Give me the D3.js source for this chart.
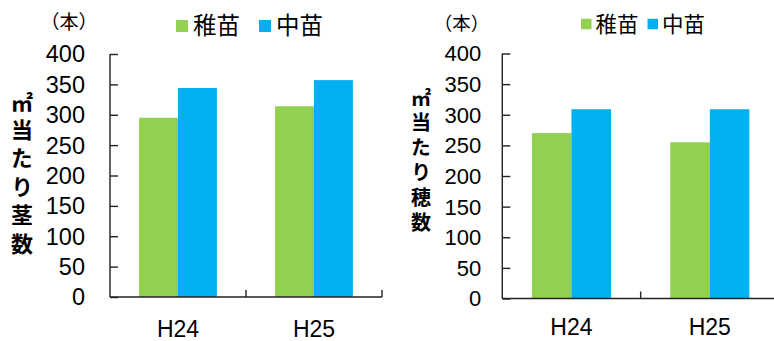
<!DOCTYPE html>
<html>
<head>
<meta charset="utf-8">
<script src="https://cdn.jsdelivr.net/npm/d3@7"></script>
<style>
  html, body { margin: 0; padding: 0; background: #fff; }
  svg { display: block; }
  .num { font-family: "Liberation Sans", Arial, sans-serif; fill: #000; }
  .cjk { font-family: "Noto Sans CJK JP", sans-serif; fill: #000; }
</style>
</head>
<body>
<svg id="chart" width="774" height="341"></svg>
<script>
// Categories, series and values
const categories = ["H24", "H25"];
const seriesNames = ["稚苗", "中苗"];
const seriesColors = ["#92D050", "#00B0F0"];
// ㎡当たり茎数 (本)
const stemsSeedling = [295, 314];
const stemsMedium = [344, 357];
// ㎡当たり穂数 (本)
const paniclesSeedling = [270, 255];
const paniclesMedium = [309, 309];
const yTickValues = [0, 50, 100, 150, 200, 250, 300, 350, 400];
const unitLabel = "（本）";
const titleStems = "㎡当たり茎数";
const titlePanicles = "㎡当たり穂数";

const svg = d3.select("#chart");

function drawPanel(opt) {
  const g = svg.append("g");
  const y = d3.scaleLinear().domain([0, 400]).range([opt.bottom, opt.top]);
  const x = d3.scaleBand().domain(categories).range([opt.left, opt.right]).padding(0);
  const bw = x.bandwidth();
  const groupW = bw * 0.572;
  const xs = d3.scaleBand().domain(seriesNames).range([(bw - groupW) / 2, (bw + groupW) / 2]).padding(0);

  const rows = categories.map((c, i) => ({ cat: c, values: [opt.a[i], opt.b[i]] }));

  // bars
  const grp = g.selectAll("g.cat").data(rows).join("g")
    .attr("transform", d => `translate(${x(d.cat)},0)`);
  grp.selectAll("rect").data(d => d.values.map((v, k) => ({ k, v }))).join("rect")
    .attr("x", d => xs(seriesNames[d.k]))
    .attr("width", xs.bandwidth())
    .attr("y", d => y(d.v))
    .attr("height", d => y(0) - y(d.v))
    .attr("fill", d => seriesColors[d.k]);

  // y axis: line with inward ticks, labels drawn separately
  const yAxis = d3.axisRight(y).tickValues(yTickValues).tickSize(8).tickFormat("").tickSizeOuter(0);
  const ya = g.append("g").attr("transform", `translate(${opt.left},0)`).call(yAxis);
  ya.select(".domain").attr("stroke", "#222").attr("stroke-width", 1.4)
    .attr("d", `M0,${opt.top}V${opt.bottom}`);
  ya.selectAll(".tick line").attr("stroke", "#222").attr("stroke-width", 1.4);
  g.selectAll("text.ylab").data(yTickValues).join("text")
    .attr("class", "num ylab")
    .attr("x", opt.left - opt.labelGap)
    .attr("y", d => y(d))
    .attr("dy", "0.36em")
    .attr("text-anchor", "end")
    .attr("font-size", opt.tickFont)
    .text(d => d);

  // x axis: category separators pointing up
  const edges = categories.map(c => x(c) + bw);
  g.append("line").attr("x1", opt.left).attr("x2", opt.right)
    .attr("y1", opt.bottom).attr("y2", opt.bottom)
    .attr("stroke", "#222").attr("stroke-width", 1.4);
  g.selectAll("line.xt").data(edges).join("line")
    .attr("class", "xt")
    .attr("x1", d => d).attr("x2", d => d)
    .attr("y1", opt.bottom).attr("y2", opt.bottom - 7)
    .attr("stroke", "#222").attr("stroke-width", 1.4);
  g.selectAll("text.xlab").data(categories).join("text")
    .attr("class", "num xlab")
    .attr("x", d => x(d) + bw / 2)
    .attr("y", opt.catBaseline)
    .attr("text-anchor", "middle")
    .attr("font-size", opt.catFont)
    .text(d => d);

  // unit
  g.append("text").attr("class", "cjk")
    .attr("x", opt.unitX).attr("y", opt.unitY)
    .attr("font-size", opt.unitFont)
    .style("font-feature-settings", '"halt"')
    .text(unitLabel);

  // legend
  let lx = opt.legendX;
  seriesNames.forEach((name, k) => {
    g.append("rect")
      .attr("x", lx).attr("y", opt.legendY - opt.swatch / 2)
      .attr("width", opt.swatch).attr("height", opt.swatch)
      .attr("fill", seriesColors[k]);
    const t = g.append("text").attr("class", "cjk")
      .attr("x", lx + opt.swatch + opt.swatchGap).attr("y", opt.legendY)
      .attr("dy", "0.36em")
      .attr("font-size", opt.legendFont)
      .text(name);
    lx += opt.swatch + opt.swatchGap + t.node().getComputedTextLength() + opt.itemGap;
  });

  // vertical axis title, set top-to-bottom
  g.append("text").attr("class", "cjk")
    .attr("x", opt.titleX).attr("y", opt.titleY0)
    .style("writing-mode", "vertical-rl")
    .style("letter-spacing", (opt.titleStep - opt.titleFont) + "px")
    .attr("font-size", opt.titleFont)
    .attr("font-weight", "bold")
    .text(opt.title);
}

drawPanel({
  a: stemsSeedling, b: stemsMedium, title: titleStems,
  left: 110, right: 382, top: 54, bottom: 297,
  labelGap: 25, tickFont: 23.5, catFont: 23, catBaseline: 337,
  unitX: 50, unitY: 29, unitFont: 19,
  legendX: 176, legendY: 26, swatch: 12, swatchGap: 5, legendFont: 23.5, itemGap: 19,
  titleX: 22, titleY0: 90, titleStep: 28.5, titleFont: 22
});

drawPanel({
  a: paniclesSeedling, b: paniclesMedium, title: titlePanicles,
  left: 502.3, right: 779, top: 53.5, bottom: 298.5,
  labelGap: 21, tickFont: 22, catFont: 23, catBaseline: 335,
  unitX: 443, unitY: 30, unitFont: 18.5,
  legendX: 581, legendY: 24, swatch: 10.5, swatchGap: 4, legendFont: 21.5, itemGap: 9,
  titleX: 421, titleY0: 87, titleStep: 25, titleFont: 20
});
</script>
</body>
</html>
